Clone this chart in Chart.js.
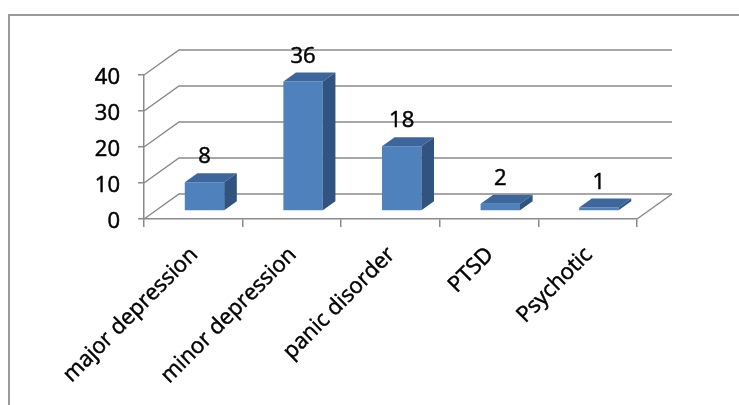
<!DOCTYPE html>
<html><head><meta charset="utf-8">
<script src="https://cdn.jsdelivr.net/npm/chart.js@4.4.1/dist/chart.umd.min.js"></script>
<style>html,body{margin:0;padding:0;background:#fff;overflow:hidden}#wrap{position:relative;width:739px;height:405px}</style>
</head><body><div id="wrap"><canvas id="c" width="739" height="405"></canvas></div>
<script>
const categories = ['major depression', 'minor depression', 'panic disorder', 'PTSD', 'Psychotic'];
const values = [8, 36, 18, 2, 1];
const yTickValues = [0, 10, 20, 30, 40];

const FONT = {family: "'Open Sans', sans-serif", size: 22};
const GRID = '#8a8a8a';
const DX = 35, DY = -25;          // full depth of the 3D box
const BF = 0.32, BB = 0.68;       // bar front / back depth fraction

const threeD = {
  id: 'threeD',
  beforeDraw(chart) {
    const c = chart.ctx;
    c.save();
    c.strokeStyle = '#9a9a9a'; c.lineWidth = 2;
    c.beginPath(); c.moveTo(9, 460); c.lineTo(9, 15); c.lineTo(800, 15); c.stroke();
    c.restore();
  },
  beforeDatasetsDraw(chart) {
    const {ctx, chartArea: a, scales: {y}} = chart;
    ctx.save();
    ctx.strokeStyle = GRID; ctx.lineWidth = 1.5;
    y.ticks.forEach(t => {
      const py = y.getPixelForValue(t.value);
      ctx.beginPath();
      ctx.moveTo(a.left, py); ctx.lineTo(a.left + DX, py + DY); ctx.lineTo(a.right + DX, py + DY);
      ctx.stroke();
    });
    const p0 = y.getPixelForValue(0);
    ctx.beginPath(); ctx.moveTo(a.right, p0); ctx.lineTo(a.right + DX, p0 + DY); ctx.stroke();
    ctx.restore();
    ctx.save();
    ctx.translate(DX * BF, DY * BF);
  },
  afterDatasetsDraw(chart) {
    const ctx = chart.ctx;
    ctx.restore();
    const meta = chart.getDatasetMeta(0);
    const ox = DX * BF, oy = DY * BF, dx = DX * (BB - BF), dy = DY * (BB - BF);
    meta.data.forEach((bar, i) => {
      const p = bar.getProps(['x', 'y', 'base', 'width'], true);
      const l = p.x - p.width / 2 + ox, r = p.x + p.width / 2 + ox, t = p.y + oy, b = p.base + oy;
      ctx.save();
      ctx.fillStyle = '#3d679c';
      ctx.beginPath(); ctx.moveTo(l, t); ctx.lineTo(r, t); ctx.lineTo(r + dx, t + dy); ctx.lineTo(l + dx, t + dy); ctx.closePath(); ctx.fill();
      ctx.fillStyle = '#31537f';
      ctx.beginPath(); ctx.moveTo(r, t); ctx.lineTo(r + dx, t + dy); ctx.lineTo(r + dx, b + dy); ctx.lineTo(r, b); ctx.closePath(); ctx.fill();
      ctx.fillStyle = '#000'; ctx.strokeStyle = '#000'; ctx.lineWidth = 0.5;
      ctx.font = FONT.size + 'px ' + FONT.family;
      ctx.textAlign = 'center'; ctx.textBaseline = 'middle';
      const txt = String(chart.data.datasets[0].data[i]);
      ctx.strokeText(txt, p.x + ox, t + dy - 16);
      ctx.fillText(txt, p.x + ox, t + dy - 16);
      ctx.restore();
    });
  }
};

new Chart(document.getElementById('c'), {
  type: 'bar',
  data: {
    labels: categories,
    datasets: [{data: values, backgroundColor: '#4F81BD', borderWidth: 0, barPercentage: 0.4, categoryPercentage: 1}]
  },
  options: {
    responsive: false, animation: false, devicePixelRatio: 1,
    layout: {padding: {left: 0, top: 75, right: 102, bottom: 0}},
    plugins: {legend: {display: false}, tooltip: {enabled: false}},
    scales: {
      x: {
        grid: {offset: true, drawOnChartArea: false, color: GRID, lineWidth: 1.5, tickLength: 8},
        border: {display: true, color: GRID, width: 1.5},
        ticks: {autoSkip: false, minRotation: 45, maxRotation: 45, padding: 15, labelOffset: 1, font: FONT, color: '#000', textStrokeColor: '#000', textStrokeWidth: 0.5},
        afterFit(s) { s.height = 405 - 219; }
      },
      y: {
        min: 0, max: 40,
        afterBuildTicks(s) { s.ticks = yTickValues.map(v => ({value: v})); },
        grid: {drawOnChartArea: false, color: GRID, lineWidth: 1.5, tickLength: 6},
        border: {display: true, color: GRID, width: 1.5},
        ticks: {padding: 18, labelOffset: 3, font: FONT, color: '#000', textStrokeColor: '#000', textStrokeWidth: 0.5},
        afterFit(s) { s.width = 144; }
      }
    }
  },
  plugins: [threeD]
});
</script></body></html>
